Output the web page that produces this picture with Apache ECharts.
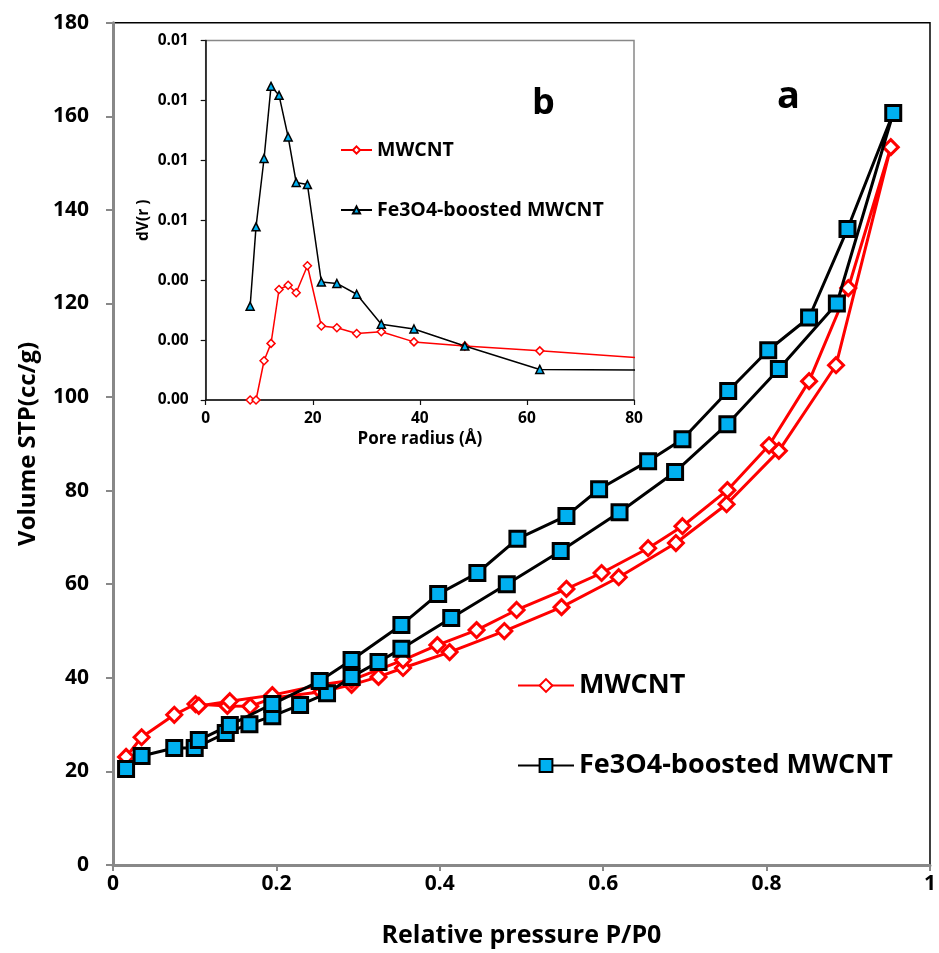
<!DOCTYPE html>
<html>
<head>
<meta charset="utf-8">
<script src="https://cdn.jsdelivr.net/npm/echarts@6/dist/echarts.min.js"></script>
<style>
html,body{margin:0;padding:0;background:#fff;}
#chart{width:939px;height:953px;}
</style>
</head>
<body>
<div id="chart"></div>
<script>
// ---- Main chart (a): adsorption branch then desorption branch, in drawing order ----
const mwcntP = [0.016,0.035,0.075,0.101,0.140,0.168,0.196,0.255,0.292,0.325,0.355,0.412,0.479,0.549,0.619,0.689,0.751,0.815,0.885,0.952,
                0.900,0.852,0.803,0.752,0.697,0.655,0.598,0.555,0.494,0.445,0.397,0.355,0.292,0.255,0.195,0.143,0.105];
const mwcntV = [23.1,27.3,32.1,34.4,34.0,33.9,35.7,37.0,38.5,40.2,42.1,45.5,50.0,55.1,61.5,68.8,77.1,88.5,106.8,153.4,
                123.3,103.4,89.7,80.1,72.4,67.7,62.4,59.0,54.5,50.2,47.0,43.8,39.5,38.5,36.3,35.0,34.0];
const feP = [0.016,0.035,0.075,0.100,0.138,0.167,0.195,0.229,0.262,0.292,0.325,0.353,0.414,0.482,0.548,0.620,0.688,0.752,0.815,0.886,0.955,
             0.899,0.852,0.802,0.753,0.697,0.655,0.595,0.555,0.495,0.446,0.398,0.353,0.292,0.253,0.195,0.143,0.105];
const feV = [20.5,23.3,25.0,25.0,28.2,30.1,31.8,34.2,36.7,40.2,43.4,46.2,52.8,60.0,67.1,75.4,84.0,94.2,106.0,120.0,160.7,
             135.9,117.0,110.0,101.3,91.0,86.3,80.3,74.6,69.7,62.4,57.9,51.3,43.8,39.3,34.4,29.9,26.7];
// ---- Inset (b): pore size distribution ----
const mwcntR = [8.3,9.4,10.9,12.2,13.7,15.4,16.9,19.0,21.6,24.5,28.2,32.8,38.9,48.4,62.4,90];
const mwcntD = [0.0000,0.0000,0.00131,0.00189,0.00369,0.00383,0.00358,0.00448,0.00247,0.00241,0.00222,0.00228,0.00194,0.00180,0.00164,0.00130];
const feR = [8.3,9.4,10.9,12.2,13.7,15.4,16.9,19.0,21.6,24.5,28.2,32.8,38.9,48.4,62.4,90];
const feD = [0.00313,0.00578,0.00806,0.01047,0.01017,0.00878,0.00726,0.00719,0.00394,0.00389,0.00353,0.00253,0.00237,0.00180,0.00102,0.00099];

const FONT = '"Open Sans", "DejaVu Sans", sans-serif';

function pairs(xs, ys){ return xs.map((x,i)=>[x, ys[i]]); }

const chart = echarts.init(document.getElementById('chart'), null, {renderer:'canvas'});
chart.setOption({
  backgroundColor:'#fff',
  animation:false,
  textStyle:{fontFamily:FONT},
  grid:[
    {left:113, right:7, top:22.7, bottom:88, show:true, borderColor:'#000', borderWidth:1.5, backgroundColor:'transparent'},
    {left:205.7, right:305, top:40.5, bottom:553, show:true, borderColor:'#888', borderWidth:1.5, backgroundColor:'#fff'}
  ],
  xAxis:[
    {gridIndex:0, type:'value', min:0, max:1, interval:0.2,
     name:'Relative pressure P/P0', nameLocation:'middle', nameGap:58,
     nameTextStyle:{fontFamily:FONT, fontWeight:'bold', fontSize:25, color:'#000'},
     axisLine:{show:true, lineStyle:{color:'#888', width:3}},
     axisTick:{show:true, inside:false, length:6, lineStyle:{color:'#888', width:2}},
     axisLabel:{fontFamily:FONT, fontWeight:'bold', fontSize:21, color:'#000', margin:9,
       formatter:v=>String(Math.round(v*10)/10)},
     splitLine:{show:false}},
    {gridIndex:1, type:'value', min:0, max:80, interval:20,
     name:'Pore radius (Å)', nameLocation:'middle', nameGap:31,
     nameTextStyle:{fontFamily:FONT, fontWeight:'bold', fontSize:17, color:'#000'},
     axisLine:{show:true, lineStyle:{color:'#111', width:1.5}},
     axisTick:{show:true, inside:false, length:5, lineStyle:{color:'#111', width:1.2}},
     axisLabel:{fontFamily:FONT, fontWeight:'bold', fontSize:15.5, color:'#000', margin:11},
     splitLine:{show:false}}
  ],
  yAxis:[
    {gridIndex:0, type:'value', min:0, max:180, interval:20,
     name:'Volume STP(cc/g)', nameLocation:'middle', nameGap:73, nameRotate:90,
     nameTextStyle:{fontFamily:FONT, fontWeight:'bold', fontSize:24, color:'#000'},
     axisLine:{show:true, lineStyle:{color:'#888', width:3}},
     axisTick:{show:true, inside:false, length:7, lineStyle:{color:'#888', width:2}},
     axisLabel:{fontFamily:FONT, fontWeight:'bold', fontSize:21, color:'#000', margin:24},
     splitLine:{show:false}},
    {gridIndex:1, type:'value', min:0, max:0.012, interval:0.002,
     name:'dV(r )', nameLocation:'middle', nameGap:54, nameRotate:90,
     nameTextStyle:{fontFamily:FONT, fontWeight:'bold', fontSize:15.5, color:'#000'},
     axisLine:{show:true, lineStyle:{color:'#111', width:1.5}},
     axisTick:{show:true, inside:false, length:5, lineStyle:{color:'#111', width:1.2}},
     axisLabel:{fontFamily:FONT, fontWeight:'bold', fontSize:15.5, color:'#000', margin:17,
       formatter:v=>v.toFixed(2)},
     splitLine:{show:false}}
  ],
  legend:[
    {left:517, top:672, padding:0, orient:'vertical', itemGap:53, itemWidth:56, itemHeight:16,
     data:['MWCNT','Fe3O4-boosted MWCNT'],
     textStyle:{fontFamily:FONT, fontWeight:'bold', fontSize:27, color:'#000'}},
    {left:340, top:140, padding:0, orient:'vertical', itemGap:40, itemWidth:31, itemHeight:9,
     data:['MWCNT (b)','Fe3O4-boosted MWCNT (b)'],
     formatter:n=>n.replace(' (b)',''),
     textStyle:{fontFamily:FONT, fontWeight:'bold', fontSize:19.5, color:'#000'}}
  ],
  series:[
    {name:'MWCNT', type:'line', xAxisIndex:0, yAxisIndex:0, data:pairs(mwcntP,mwcntV),
     symbol:'diamond', symbolSize:15, lineStyle:{color:'#ff0000', width:3},
     itemStyle:{color:'#fff', borderColor:'#ff0000', borderWidth:3}, z:3},
    {name:'Fe3O4-boosted MWCNT', type:'line', xAxisIndex:0, yAxisIndex:0, data:pairs(feP,feV),
     symbol:'rect', symbolSize:15, lineStyle:{color:'#000', width:3},
     itemStyle:{color:'#00b0f0', borderColor:'#000', borderWidth:3}, z:4},
    {name:'MWCNT (b)', type:'line', xAxisIndex:1, yAxisIndex:1, data:pairs(mwcntR,mwcntD),
     symbol:'diamond', symbolSize:8, clip:true, lineStyle:{color:'#ff0000', width:1.5},
     itemStyle:{color:'#fff', borderColor:'#ff0000', borderWidth:1.5}, z:5},
    {name:'Fe3O4-boosted MWCNT (b)', type:'line', xAxisIndex:1, yAxisIndex:1, data:pairs(feR,feD),
     symbol:'triangle', symbolSize:8, clip:true, lineStyle:{color:'#000', width:1.5},
     itemStyle:{color:'#00b0f0', borderColor:'#000', borderWidth:1.5}, z:6}
  ],
  graphic:[
    {type:'text', left:777, top:78, style:{text:'a', fontFamily:FONT, fontWeight:'bold', fontSize:38, fill:'#000'}, z:10},
    {type:'text', left:532, top:86, style:{text:'b', fontFamily:FONT, fontWeight:'bold', fontSize:36, fill:'#000'}, z:10}
  ]
});
</script>
</body>
</html>
